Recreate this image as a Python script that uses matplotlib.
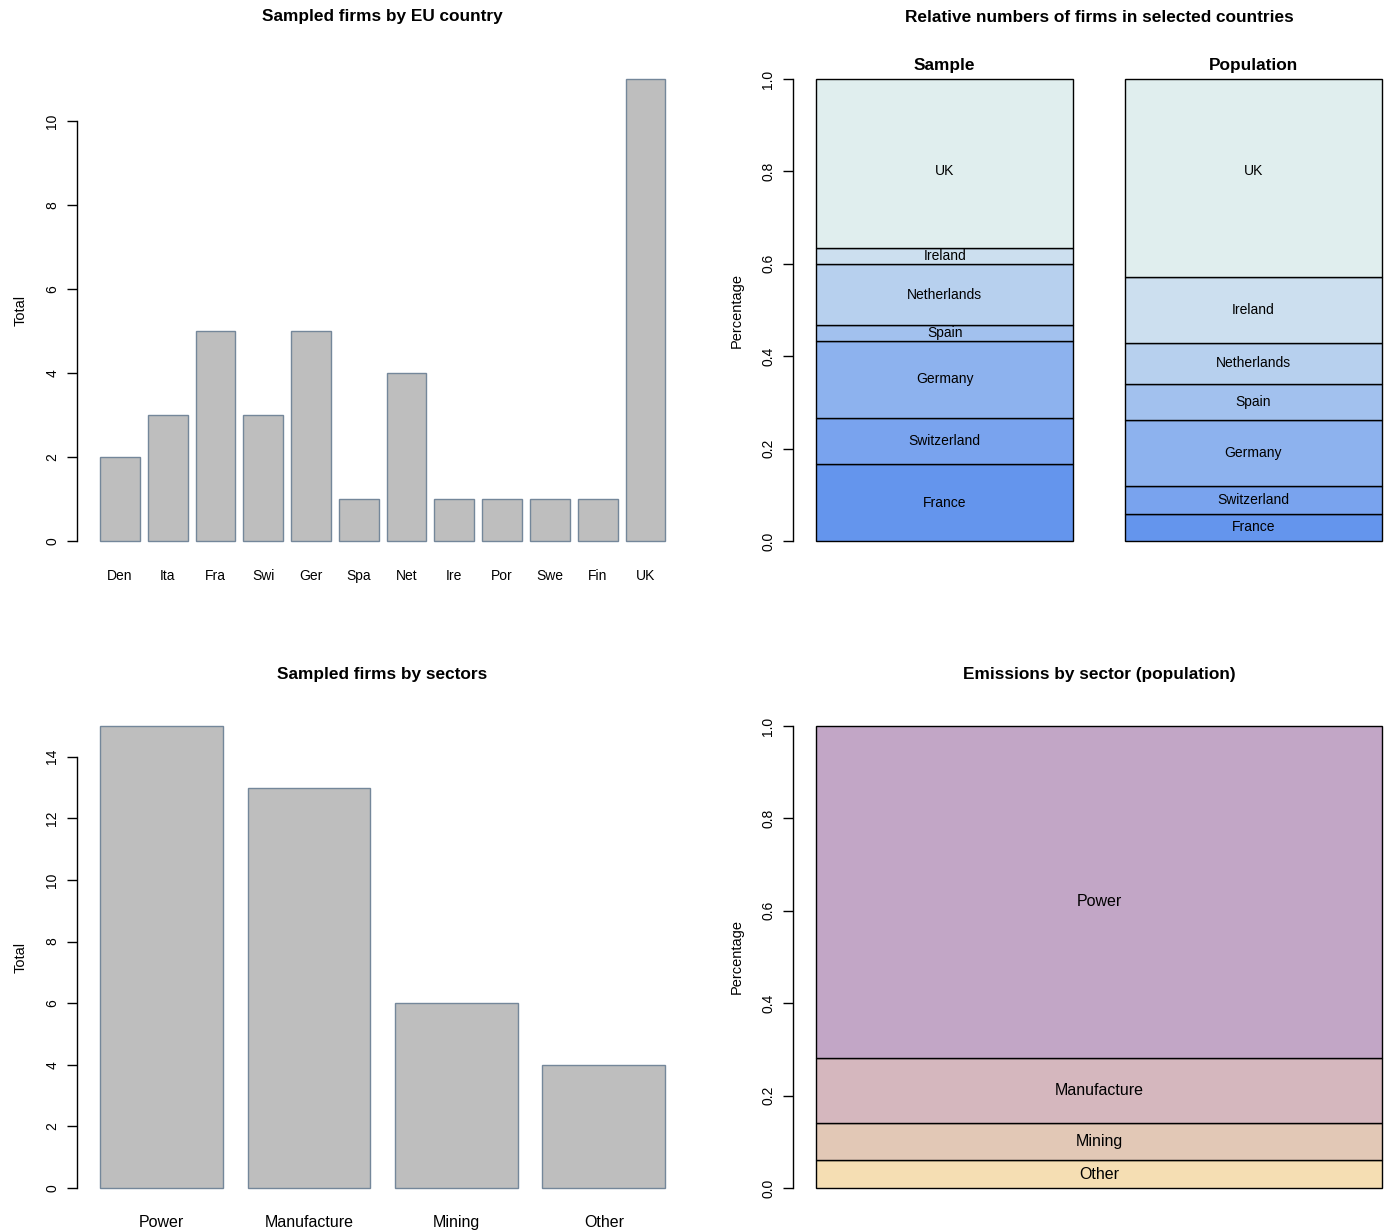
import numpy as np
import matplotlib
matplotlib.use("Agg")
import matplotlib.pyplot as plt

plt.rcParams['font.family'] = ['Liberation Sans', 'DejaVu Sans']

# Sampled firms by EU country
country_abbr = ["Den", "Ita", "Fra", "Swi", "Ger", "Spa", "Net", "Ire", "Por", "Swe", "Fin", "UK"]
country_counts = [2, 3, 5, 3, 5, 1, 4, 1, 1, 1, 1, 11]

# Relative numbers of firms (stack order bottom -> top)
stack_countries = ["France", "Switzerland", "Germany", "Spain", "Netherlands", "Ireland", "UK"]
sample_counts = [5, 3, 5, 1, 4, 1, 11]
population_share = [0.059, 0.061, 0.141, 0.079, 0.089, 0.142, 0.429]
stack_groups = ["Sample", "Population"]

# Sampled firms by sector
sectors = ["Power", "Manufacture", "Mining", "Other"]
sector_counts = [15, 13, 6, 4]

# Emissions by sector (population), bottom -> top
emission_sectors = ["Other", "Mining", "Manufacture", "Power"]
emission_share = [0.060, 0.080, 0.142, 0.718]

W, H = 1392, 1232
fig = plt.figure(figsize=(W / 100, H / 100), dpi=100)


def add_axes_px(left, top, right, bottom):
    return fig.add_axes([left / W, 1 - bottom / H, (right - left) / W, (bottom - top) / H])


def r_style_yaxis(ax, ticks, labels, fontsize=10):
    for s in ("top", "right", "bottom"):
        ax.spines[s].set_visible(False)
    ax.spines["left"].set_bounds(ticks[0], ticks[-1])
    ax.spines["left"].set_linewidth(1.0)
    ax.set_yticks(ticks)
    ax.set_yticklabels(labels, rotation=90, va="center", fontsize=fontsize)
    ax.tick_params(axis="y", length=7, width=1.0, pad=6)
    ax.set_xticks([])


def label_levels(bottoms, heights, top_level):
    # segment centres, with the top (largest) segment labelled at a fixed level
    levels = [b + h / 2 for b, h in zip(bottoms, heights)]
    levels[-1] = top_level
    return levels


bar_fill = "#bebebe"
bar_edge = "#74879a"

# ---- Top-left: firms by country ----
n = len(country_counts)
left_edges = 0.2 + 1.2 * np.arange(n)
centers = left_edges + 0.5
ax1 = add_axes_px(77.4, 60.5, 688, 559.5)
ax1.bar(centers, country_counts, width=1.0, color=bar_fill, edgecolor=bar_edge, linewidth=1.0)
ax1.set_xlim(0.2 - 0.04 * 14.2, 14.4 + 0.04 * 14.2)
ax1.set_ylim(-0.44, 11.44)
r_style_yaxis(ax1, [0, 2, 4, 6, 8, 10], ["0", "2", "4", "6", "8", "10"])
for c, lab in zip(centers, country_abbr):
    ax1.text(c, -0.83, lab, ha="center", va="center", fontsize=10)
ax1.set_ylabel("Total", fontsize=10.5, labelpad=13)
fig.text(382.5 / W, 1 - 17 / H, "Sampled firms by EU country", ha="center", va="center",
         fontsize=12.4, fontweight="bold")

# ---- Top-right: stacked relative numbers ----
blues = ["#6495ED", "#79A3EE", "#8DB2EE", "#A2C1EE", "#B7D0EE", "#CCDFEF", "#E0EEEE"]
sample_share = np.array(sample_counts) / np.sum(sample_counts)
stacks = [sample_share, np.array(population_share)]
ax2 = add_axes_px(793.4, 60.5, 1404.6, 559.5)
xpos = [0.7, 1.9]
for x, shares in zip(xpos, stacks):
    bottoms = np.concatenate([[0], np.cumsum(shares)[:-1]])
    ax2.bar([x] * len(shares), shares, bottom=bottoms, width=1.0, color=blues,
            edgecolor="black", linewidth=1.0)
    for yl, lab in zip(label_levels(bottoms, shares, 0.8), stack_countries):
        ax2.text(x, yl, lab, ha="center", va="center", fontsize=10)
for x, lab in zip(xpos, stack_groups):
    ax2.text(x, 1.03, lab, ha="center", va="center", fontsize=12.4, fontweight="bold")
ax2.set_xlim(0.2 - 0.088, 2.4 + 0.088)
ax2.set_ylim(-0.04, 1.04)
r_style_yaxis(ax2, [0, 0.2, 0.4, 0.6, 0.8, 1.0], ["0.0", "0.2", "0.4", "0.6", "0.8", "1.0"])
ax2.set_ylabel("Percentage", fontsize=10.5, labelpad=13)
fig.text(1099 / W, 1 - 17 / H, "Relative numbers of firms in selected countries", ha="center",
         va="center", fontsize=12.4, fontweight="bold")

# ---- Bottom-left: firms by sector ----
m = len(sector_counts)
s_centers = 0.2 + 1.2 * np.arange(m) + 0.5
ax3 = add_axes_px(77.4, 707.5, 688, 1206.5)
ax3.bar(s_centers, sector_counts, width=1.0, color=bar_fill, edgecolor=bar_edge, linewidth=1.0)
ax3.set_xlim(0.2 - 0.184, 4.8 + 0.184)
ax3.set_ylim(-0.6, 15.6)
r_style_yaxis(ax3, [0, 2, 4, 6, 8, 10, 12, 14], ["0", "2", "4", "6", "8", "10", "12", "14"])
for c, lab in zip(s_centers, sectors):
    ax3.text(c, -1.13, lab, ha="center", va="center", fontsize=11.5)
ax3.set_ylabel("Total", fontsize=10.5, labelpad=13)
fig.text(382.5 / W, 1 - 675 / H, "Sampled firms by sectors", ha="center", va="center",
         fontsize=12.4, fontweight="bold")

# ---- Bottom-right: emissions by sector ----
warm = ["#F5DEB3", "#E2C8B6", "#D5B7BE", "#C2A6C6"]
ax4 = add_axes_px(793.4, 707.5, 1404.6, 1206.5)
e_bottoms = np.concatenate([[0], np.cumsum(emission_share)[:-1]])
ax4.bar([0.7] * len(emission_share), emission_share, bottom=e_bottoms, width=1.0, color=warm,
        edgecolor="black", linewidth=1.0)
for yl, lab in zip(label_levels(e_bottoms, emission_share, 0.62), emission_sectors):
    ax4.text(0.7, yl, lab, ha="center", va="center", fontsize=11.5)
ax4.set_xlim(0.2 - 0.04, 1.2 + 0.04)
ax4.set_ylim(-0.04, 1.04)
r_style_yaxis(ax4, [0, 0.2, 0.4, 0.6, 0.8, 1.0], ["0.0", "0.2", "0.4", "0.6", "0.8", "1.0"])
ax4.set_ylabel("Percentage", fontsize=10.5, labelpad=13)
fig.text(1099 / W, 1 - 675 / H, "Emissions by sector (population)", ha="center", va="center",
         fontsize=12.4, fontweight="bold")

for ax in (ax1, ax2, ax3, ax4):
    ax.patch.set_alpha(0)

fig.savefig("out.png", dpi=100)
